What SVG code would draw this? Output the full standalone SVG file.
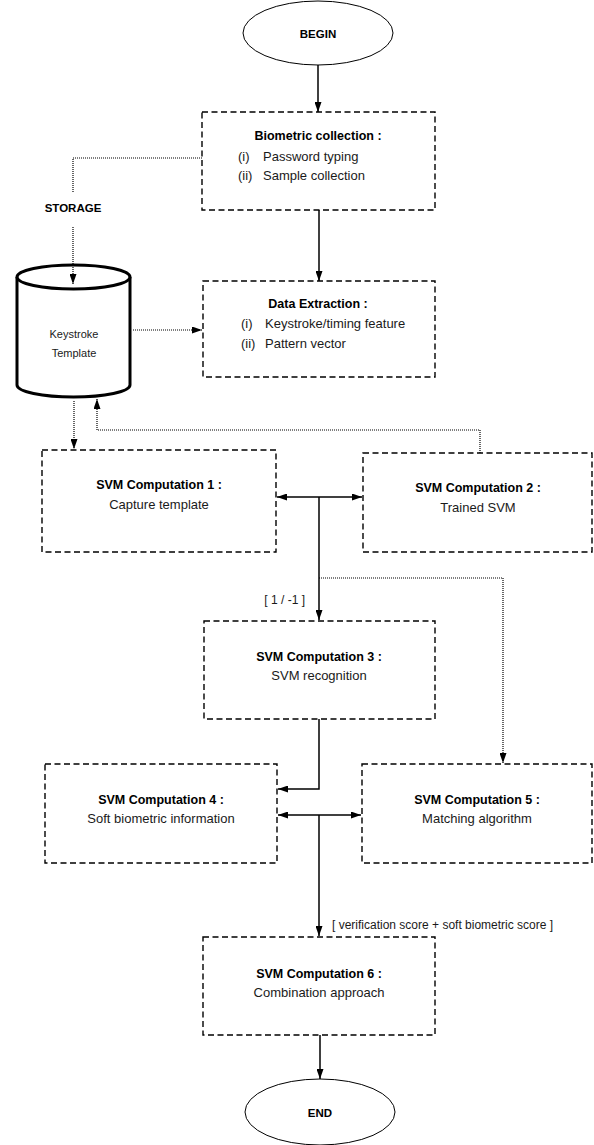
<svg xmlns="http://www.w3.org/2000/svg" width="594" height="1145" viewBox="0 0 594 1145">
<style>
.box{fill:#fff;stroke:#000;stroke-width:1.4;stroke-dasharray:6 3.5}
.term{fill:#fff;stroke:#000;stroke-width:1}
.cyl{fill:#fff;stroke:#000;stroke-width:3}
.solid{fill:none;stroke:#000;stroke-width:1.5}
.dot{fill:none;stroke:#000;stroke-width:1.2;stroke-dasharray:1 1}
text{font-family:"Liberation Sans",Arial,sans-serif;font-size:13px;fill:#1a1a1a}
.b{font-weight:bold;fill:#000;font-size:12.5px}
.c{text-anchor:middle}
.s{font-size:12px}
</style>
<defs>
<marker id="ah" viewBox="0 0 10 7" refX="10" refY="3.5" markerWidth="10" markerHeight="7" markerUnits="userSpaceOnUse" orient="auto-start-reverse">
<path d="M0,0 L10,3.5 L0,7 z" fill="#000" stroke="none"/>
</marker>
</defs>
<rect width="594" height="1145" fill="#fff"/>

<g id="begin">
<ellipse class="term" cx="318" cy="33" rx="75" ry="32"/>
<text class="b c" x="318" y="38" style="font-size:11.5px">BEGIN</text>
</g>

<g id="biometric">
<rect class="box" x="202" y="112" width="233" height="98"/>
<text class="b c" x="318" y="140">Biometric collection :</text>
<text x="238" y="161">(i)</text><text x="263" y="161">Password typing</text>
<text x="238" y="180">(ii)</text><text x="263" y="180">Sample collection</text>
</g>

<g id="storage-label">
<text class="b c" x="73" y="212" style="font-size:11.5px">STORAGE</text>
</g>

<g id="template">
<path class="cyl" d="M17,277 L17,385 A56.5,12 0 0 0 130,385 L130,277"/>
<ellipse class="cyl" cx="73.5" cy="277" rx="56.5" ry="12"/>
<text class="c" x="74" y="338" style="font-size:11px">Keystroke</text>
<text class="c" x="74" y="357" style="font-size:11px">Template</text>
</g>

<g id="extraction">
<rect class="box" x="203" y="281" width="232" height="96"/>
<text class="b c" x="318" y="308">Data Extraction :</text>
<text x="241" y="328">(i)</text><text x="265" y="328">Keystroke/timing feature</text>
<text x="241" y="348">(ii)</text><text x="265" y="348">Pattern vector</text>
</g>

<g id="svm1">
<rect class="box" x="42" y="450" width="234" height="102"/>
<text class="b c" x="159" y="489">SVM Computation 1 :</text>
<text class="c" x="159" y="509">Capture template</text>
</g>

<g id="svm2">
<rect class="box" x="363" y="453" width="229" height="99"/>
<text class="b c" x="478" y="492">SVM Computation 2 :</text>
<text class="c" x="478" y="512">Trained SVM</text>
</g>

<g id="svm3">
<rect class="box" x="204" y="621" width="231" height="98"/>
<text class="b c" x="319" y="661">SVM Computation 3 :</text>
<text class="c" x="319" y="680">SVM recognition</text>
</g>

<g id="svm4">
<rect class="box" x="45" y="764" width="232" height="99"/>
<text class="b c" x="161" y="804">SVM Computation 4 :</text>
<text class="c" x="161" y="823">Soft biometric information</text>
</g>

<g id="svm5">
<rect class="box" x="362" y="764" width="230" height="99"/>
<text class="b c" x="477" y="804">SVM Computation 5 :</text>
<text class="c" x="477" y="823">Matching algorithm</text>
</g>

<g id="svm6">
<rect class="box" x="203" y="937" width="232" height="98"/>
<text class="b c" x="319" y="978">SVM Computation 6 :</text>
<text class="c" x="319" y="997">Combination approach</text>
</g>

<g id="end">
<ellipse class="term" cx="320" cy="1112" rx="75" ry="33"/>
<text class="b c" x="320" y="1117" style="font-size:11.5px">END</text>
</g>

<g id="connectors">
<line class="solid" x1="318" y1="65" x2="318" y2="112" marker-end="url(#ah)"/>
<line class="solid" x1="319" y1="210" x2="319" y2="281" marker-end="url(#ah)"/>
<polyline class="dot" points="202,158 73,158 73,192"/>
<line class="dot" x1="73" y1="227" x2="73" y2="284" marker-end="url(#ah)"/>
<line class="dot" x1="133" y1="330" x2="202" y2="330" marker-end="url(#ah)"/>
<line class="dot" x1="74" y1="401" x2="74" y2="449" marker-end="url(#ah)"/>
<polyline class="dot" points="480,453 480,430 97,430 97,399" marker-end="url(#ah)"/>
<line class="solid" x1="277" y1="497" x2="362" y2="497" marker-start="url(#ah)" marker-end="url(#ah)"/>
<line class="solid" x1="319" y1="497" x2="319" y2="620" marker-end="url(#ah)"/>
<polyline class="dot" points="319,578 503,578 503,763" marker-end="url(#ah)"/>
<text class="s" x="305" y="604" style="text-anchor:end">[ 1 / -1 ]</text>
<polyline class="solid" points="319,719 319,789 278,789" marker-end="url(#ah)"/>
<line class="solid" x1="278" y1="815" x2="361" y2="815" marker-start="url(#ah)" marker-end="url(#ah)"/>
<line class="solid" x1="319" y1="815" x2="319" y2="936" marker-end="url(#ah)"/>
<text class="s" x="332" y="929">[ verification score + soft biometric score ]</text>
<line class="solid" x1="320" y1="1035" x2="320" y2="1079" marker-end="url(#ah)"/>
</g>
</svg>
